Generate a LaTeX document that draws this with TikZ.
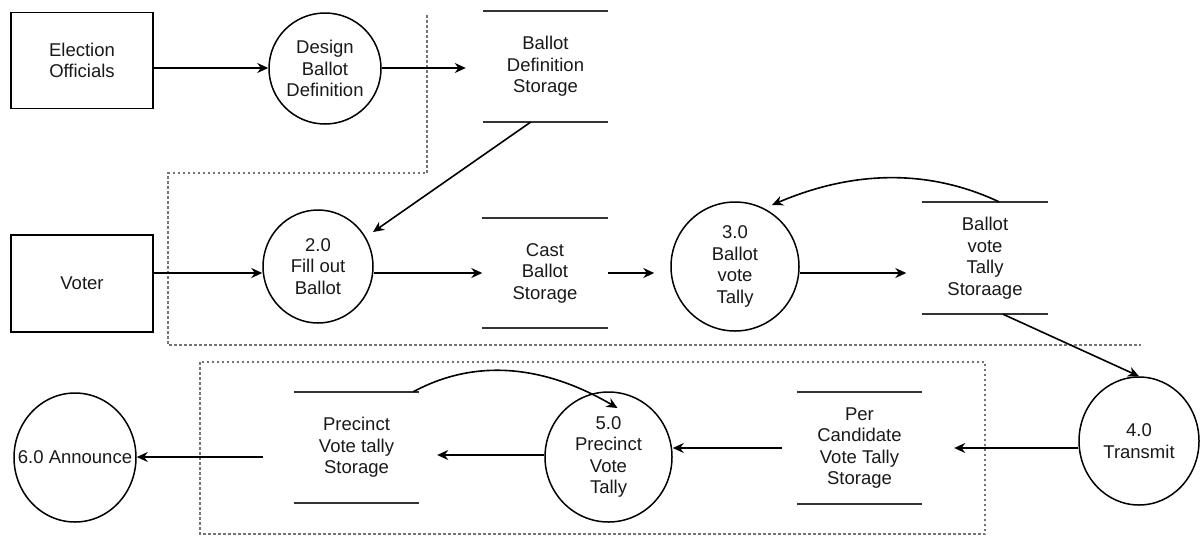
\documentclass[tikz,border=0pt]{standalone}
\usepackage{fontspec}
\setmainfont{Liberation Sans}
\usetikzlibrary{arrows.meta,shapes.geometric,calc}
\begin{document}
\begin{tikzpicture}[x=1pt,y=-1pt,
  every node/.style={font=\fontsize{18.5}{21.5}\selectfont, align=center, inner sep=0pt, text=black!90},
  entity/.style={draw, line width=1.7pt, minimum width=142pt, minimum height=96pt},
  proc/.style={draw, ellipse, line width=1.5pt},
  store/.style={minimum width=125pt, minimum height=111pt},
  storeline/.style={line width=1.9pt, draw=black!80},
  arr/.style={line width=1.6pt, -{Stealth[length=11pt,width=10pt]}},
  bound/.style={draw=black!55, line width=1.3pt, dash pattern=on 2.5pt off 2.5pt}]
\useasboundingbox (0,0) rectangle (1201,536);

% boundaries
\draw[bound] (427,15) -- (427,173) -- (168,173) -- (168,345) -- (1141,345);
\draw[bound] (200,362) rectangle (985,534);

% nodes
\node[entity] (eo) at (82,60.5) {Election\\Officials};
\node[proc, minimum width=112pt, minimum height=111pt] (design) at (325,68.5) {Design\\Ballot\\Definition};
\node[store] (bds) at (545.5,66.5) {Ballot\\Definition\\Storage};

\node[entity, minimum height=97pt] (voter) at (82,283.5) {Voter};
\node[proc, minimum width=110pt, minimum height=113pt] (fill) at (318,266.5) {2.0\\Fill out\\Ballot};
\node[store, minimum height=110pt] (cbs) at (545,273) {Cast\\Ballot\\Storage};
\node[proc, minimum width=128pt, minimum height=129pt] (tally3) at (735,266.5) {3.0\\Ballot\\vote\\Tally};
\node[store, minimum height=112pt] (bvts) at (985,258) {Ballot\\vote\\Tally\\Storaage};

\node[proc, minimum width=120pt, minimum height=128pt] (transmit) at (1139,441) {4.0\\Transmit};
\node[store, minimum height=112pt] (pcvts) at (859.5,448) {Per\\Candidate\\Vote Tally\\Storage};
\node[proc, minimum width=127pt, minimum height=130pt] (p5) at (608.5,457) {5.0\\Precinct\\Vote\\Tally};
\node[store] (pvts) at (356.5,447.5) {Precinct\\Vote tally\\Storage};
\node[proc, minimum width=122pt, minimum height=129pt] (announce) at (75,457.5) {\makebox[0pt]{6.0 Announce}};

% storage lines
\foreach \s in {bds,cbs,bvts,pcvts,pvts}{
  \draw[storeline] (\s.north west) -- (\s.north east) (\s.south west) -- (\s.south east);
}

% arrow levels
\coordinate (y1) at (0,68);
\coordinate (y2) at (0,273);
\coordinate (y3) at (0,448);
\coordinate (y4) at (0,455);
\coordinate (y5) at (0,457);

% connectors
\draw[arr] (eo.east |- y1) -- (design.west |- y1);
\draw[arr, shorten >=17pt] (design.east |- y1) -- (bds.west |- y1);
\draw[arr] ([xshift=-15pt]bds.south) -- ([shift={(55pt,34.5pt)}]fill.center);
\draw[arr] (voter.east |- y2) -- (fill.west |- y2);
\draw[arr] (fill.east |- y2) -- (cbs.west |- y2);
\draw[arr, shorten >=16pt] (cbs.east |- y2) -- (tally3.west |- y2);
\draw[arr, shorten >=16pt] (tally3.east |- y2) -- (bvts.west |- y2);
\draw[arr] ([xshift=14pt]bvts.north) .. controls (929,169) and (854,170) .. ([shift={(37pt,61.5pt)}]tally3.center);
\draw[arr] ([xshift=18pt]bvts.south) -- (transmit.north);
\draw[arr, shorten >=32pt] (transmit.west |- y3) -- (pcvts.east |- y3);
\draw[arr, shorten <=15pt] (pcvts.west |- y3) -- (p5.east |- y3);
\draw[arr, shorten >=18pt] (p5.west |- y4) -- (pvts.east |- y4);
\draw[arr, shorten <=31pt] (pvts.west |- y5) -- (announce.east |- y5);
\draw[arr] ([xshift=-6pt]pvts.north east) .. controls (474,359) and (542,364) .. ([shift={(9pt,49pt)}]p5.center);
\end{tikzpicture}
\end{document}
